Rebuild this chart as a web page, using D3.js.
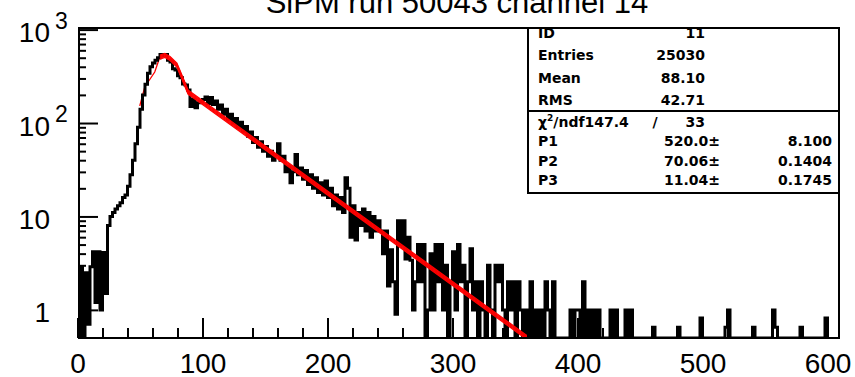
<!DOCTYPE html>
<html>
<head>
<meta charset="utf-8">
<script src="https://cdn.jsdelivr.net/npm/d3@7"></script>
<style>
body { margin: 0; background: #fff; }
svg { display: block; }
text { font-family: "Liberation Sans", Arial, sans-serif; fill: #000; }
.stat { font-family: "DejaVu Sans", sans-serif; font-weight: bold; font-size: 14px; }
</style>
</head>
<body>
<div id="chart"></div>
<script>
var width = 855, height = 377;

// histogram contents, 2 ADC counts per bin from 0 to 600
var binWidth = 2;
var counts = [
  0, 2.9, 0, 2.5, 0.7, 2.9, 4.2, 1.2, 4.2, 1.0,
  4.1, 1.5, 8, 10, 11, 12, 13, 14, 16, 17,
  21, 28, 40, 60, 90, 140, 200, 260, 340, 400,
  440, 470, 500, 540, 525, 540, 470, 450, 380, 370,
  320, 305, 262, 255, 225, 150, 180, 146, 165, 170,
  178, 190, 162, 188, 158, 172, 140, 156, 124, 140,
  110, 124, 100, 112, 90, 102, 82, 92, 72, 80,
  62, 70, 55, 63, 50, 56, 44, 50, 40, 46,
  60, 40, 44, 30, 34, 23, 30, 46, 28, 33,
  25, 31, 22, 28, 20, 26, 18, 23, 17, 24,
  16, 20, 13, 17, 12, 16, 11, 26, 20, 6,
  13, 5.6, 11, 8, 12, 7, 11, 6, 10, 7,
  9, 7, 4, 7, 1.8, 4.4, 2, 0.9, 9, 5,
  9, 3.5, 6, 3.4, 1, 2, 5, 2, 5, 0,
  1, 4, 1, 5, 2, 5, 1, 3, 0, 2,
  4.2, 1, 5, 2, 3, 0, 2, 4.5, 1, 2,
  0, 2, 1, 0, 3, 1, 0, 3, 2, 3,
  1, 0, 2, 1, 2, 0, 2, 1, 0, 1,
  0, 2, 0, 1, 0, 1, 0, 2, 1, 0,
  2, 0, 0, 0, 0, 0, 0, 1, 0, 1,
  1, 0, 2, 0, 1, 0, 1, 0, 1, 0,
  0, 0, 0, 1, 0, 1, 0, 0, 0, 1,
  0, 1, 0, 0, 0, 0, 0, 0, 0, 0,
  0.65, 0, 0, 0, 0, 0, 0, 0, 0, 0,
  0.65, 0, 0, 0, 0, 0, 0, 0, 0, 0.82,
  0, 0, 0, 0, 0, 0, 0, 0, 0, 0.65,
  1, 0, 0, 0, 0, 0, 0, 0, 0, 0,
  0.65, 0, 0, 0, 0, 0, 0, 0, 1, 0.65,
  0, 0, 0, 0, 0, 0, 0, 0, 0, 0.65,
  0, 0, 0, 0, 0, 0, 0, 0, 0, 0.82
];

// fitted curve (red)
var fitX = [49.8, 53.8, 61.8, 65.9, 69.9, 74, 79.5, 84, 88.4, 100, 150, 200, 250, 300, 360];
var fitY = [152, 243, 351, 508, 530, 490, 417, 300, 215, 166, 54.3, 17.8, 5.85, 1.92, 0.5];
var fitPeak = 65.9; // rising part is mostly hidden under the histogram

var xMajor = [0, 100, 200, 300, 400, 500, 600];
var yMajor = [1, 10, 100, 1000];

var title = "SiPM run 50043 channel 14";
var statNames = ["ID", "Entries", "Mean", "RMS"];
var statValues = ["11", "25030", "88.10", "42.71"];
var chi2 = "147.4", ndf = "33";
var parNames = ["P1", "P2", "P3"];
var parValues = ["520.0", "70.06", "11.04"];
var parErrors = ["8.100", "0.1404", "0.1745"];

var frameL = 78, frameR = 839, frameT = 28, frameB = 338;

var x = d3.scaleLinear().domain([0, 609]).range([77.5, 838.75]);
var y = d3.scaleLog().domain([0.5, 1040]).range([frameB, frameT]);

var svg = d3.select("#chart").append("svg")
  .attr("width", width).attr("height", height);

svg.append("clipPath").attr("id", "plot")
  .append("rect").attr("x", frameL).attr("y", frameT)
  .attr("width", frameR - frameL).attr("height", frameB - frameT);

var plot = svg.append("g").attr("clip-path", "url(#plot)");

// fit line drawn PAW-style: a few 1px strokes shifted vertically,
// so it is thick where flat and thin where steep
var fitPts = fitX.map(function(u, i) { return [u, fitY[i]]; });
function fitPath(data, dy) {
  return d3.line()
    .x(function(d) { return x(d[0]); })
    .y(function(d) { return y(d[1]) + dy; })(data);
}
function drawFit(data, offsets) {
  offsets.forEach(function(dy) {
    plot.append("path").attr("d", fitPath(data, dy))
      .attr("fill", "none").attr("stroke", "#ff0000").attr("stroke-width", 1.3);
  });
}
drawFit(fitPts.filter(function(d) { return d[0] <= fitPeak; }), [0]);

// histogram outline
var pts = [[0, 0.5]];
counts.forEach(function(c, i) { pts.push([i * binWidth, Math.max(c, 0.5)]); });
pts.push([counts.length * binWidth, Math.max(counts[counts.length - 1], 0.5)]);
pts.push([counts.length * binWidth, 0.5]);

var step = d3.line()
  .x(function(d) { return x(d[0]); })
  .y(function(d) { return y(d[1]); })
  .curve(d3.curveStepAfter);

plot.append("path")
  .attr("d", step(pts))
  .attr("fill", "none")
  .attr("stroke", "#000")
  .attr("stroke-width", 3);

drawFit(fitPts.filter(function(d) { return d[0] >= fitPeak; }), [-2, -1, 0, 1, 2]);

// axes, ticks pointing inward
var yMinor = [];
[0.1, 1, 10, 100].forEach(function(dec) {
  for (var k = 2; k <= 9; k++) { if (dec * k > 0.5) yMinor.push(dec * k); }
});

function thick(g) { g.select(".domain").remove(); g.selectAll("line").attr("stroke-width", 2); }

svg.append("g").attr("transform", "translate(" + frameL + ",0)")
  .call(d3.axisRight(y).tickValues(yMajor).tickSize(20).tickFormat(""))
  .call(thick);
svg.append("g").attr("transform", "translate(" + frameL + ",0)")
  .call(d3.axisRight(y).tickValues(yMinor).tickSize(8).tickFormat(""))
  .call(thick);

svg.append("g").attr("transform", "translate(0," + frameB + ")")
  .call(d3.axisTop(x).tickValues(xMajor).tickSize(20).tickFormat(""))
  .call(thick);
svg.append("g").attr("transform", "translate(0," + frameB + ")")
  .call(d3.axisTop(x).tickValues(d3.range(20, 601, 20)).tickSize(10).tickFormat(""))
  .call(thick);

svg.append("g").attr("transform", "translate(0," + frameB + ")")
  .call(d3.axisBottom(x).tickValues(xMajor).tickSize(0).tickPadding(15))
  .call(function(g) {
    g.select(".domain").remove();
    g.selectAll("text").attr("font-size", 28).attr("font-family", "Liberation Sans, Arial, sans-serif");
  });

// y labels: 1, 10, 10^2, 10^3
yMajor.forEach(function(v) {
  var e = Math.round(Math.log10(v));
  svg.append("text").attr("x", 50).attr("y", y(v) + 12.5)
    .attr("text-anchor", "end").attr("font-size", 28)
    .text(e < 2 ? String(v) : "10");
  if (e >= 2) {
    svg.append("text").attr("x", 55).attr("y", y(v) - 1)
      .attr("font-size", 23).text(e);
  }
});

// frame
svg.append("rect").attr("x", frameL + 1).attr("y", frameT).attr("width", frameR - frameL - 1).attr("height", frameB - frameT)
  .attr("fill", "none").attr("stroke", "#000").attr("stroke-width", 2);

// title
svg.append("text").attr("x", 457).attr("y", 13).attr("text-anchor", "middle")
  .attr("font-size", 31).text(title);

// stats box
var bx = 528, by = frameT, bw = frameR - bx, bh = 165, sep = 111;
var box = svg.append("g");
box.append("rect").attr("x", bx).attr("y", by).attr("width", bw).attr("height", bh)
  .attr("fill", "#fff").attr("stroke", "#000").attr("stroke-width", 2);
box.append("line").attr("x1", bx).attr("x2", bx + bw).attr("y1", sep).attr("y2", sep)
  .attr("stroke", "#000").attr("stroke-width", 2);

statNames.forEach(function(n, i) {
  var yy = 38 + 22.3 * i;
  box.append("text").attr("class", "stat").attr("x", 538).attr("y", yy).text(n);
  box.append("text").attr("class", "stat").attr("x", 705).attr("y", yy)
    .attr("text-anchor", "end").text(statValues[i]);
});

var chiRow = box.append("text").attr("class", "stat").attr("x", 538).attr("y", 127);
chiRow.append("tspan").text("χ");
chiRow.append("tspan").attr("dy", -6).attr("font-size", 9).text("2");
chiRow.append("tspan").attr("dy", 6).text("/ndf" + chi2);
box.append("text").attr("class", "stat").attr("x", 655).attr("y", 127)
  .attr("text-anchor", "middle").text("/");
box.append("text").attr("class", "stat").attr("x", 705).attr("y", 127)
  .attr("text-anchor", "end").text(ndf);

parNames.forEach(function(n, i) {
  var yy = 146.3 + 19.3 * i;
  box.append("text").attr("class", "stat").attr("x", 538).attr("y", yy).text(n);
  box.append("text").attr("class", "stat").attr("x", 720).attr("y", yy)
    .attr("text-anchor", "end").text(parValues[i] + "±");
  box.append("text").attr("class", "stat").attr("x", 832).attr("y", yy)
    .attr("text-anchor", "end").text(parErrors[i]);
});
</script>
</body>
</html>
